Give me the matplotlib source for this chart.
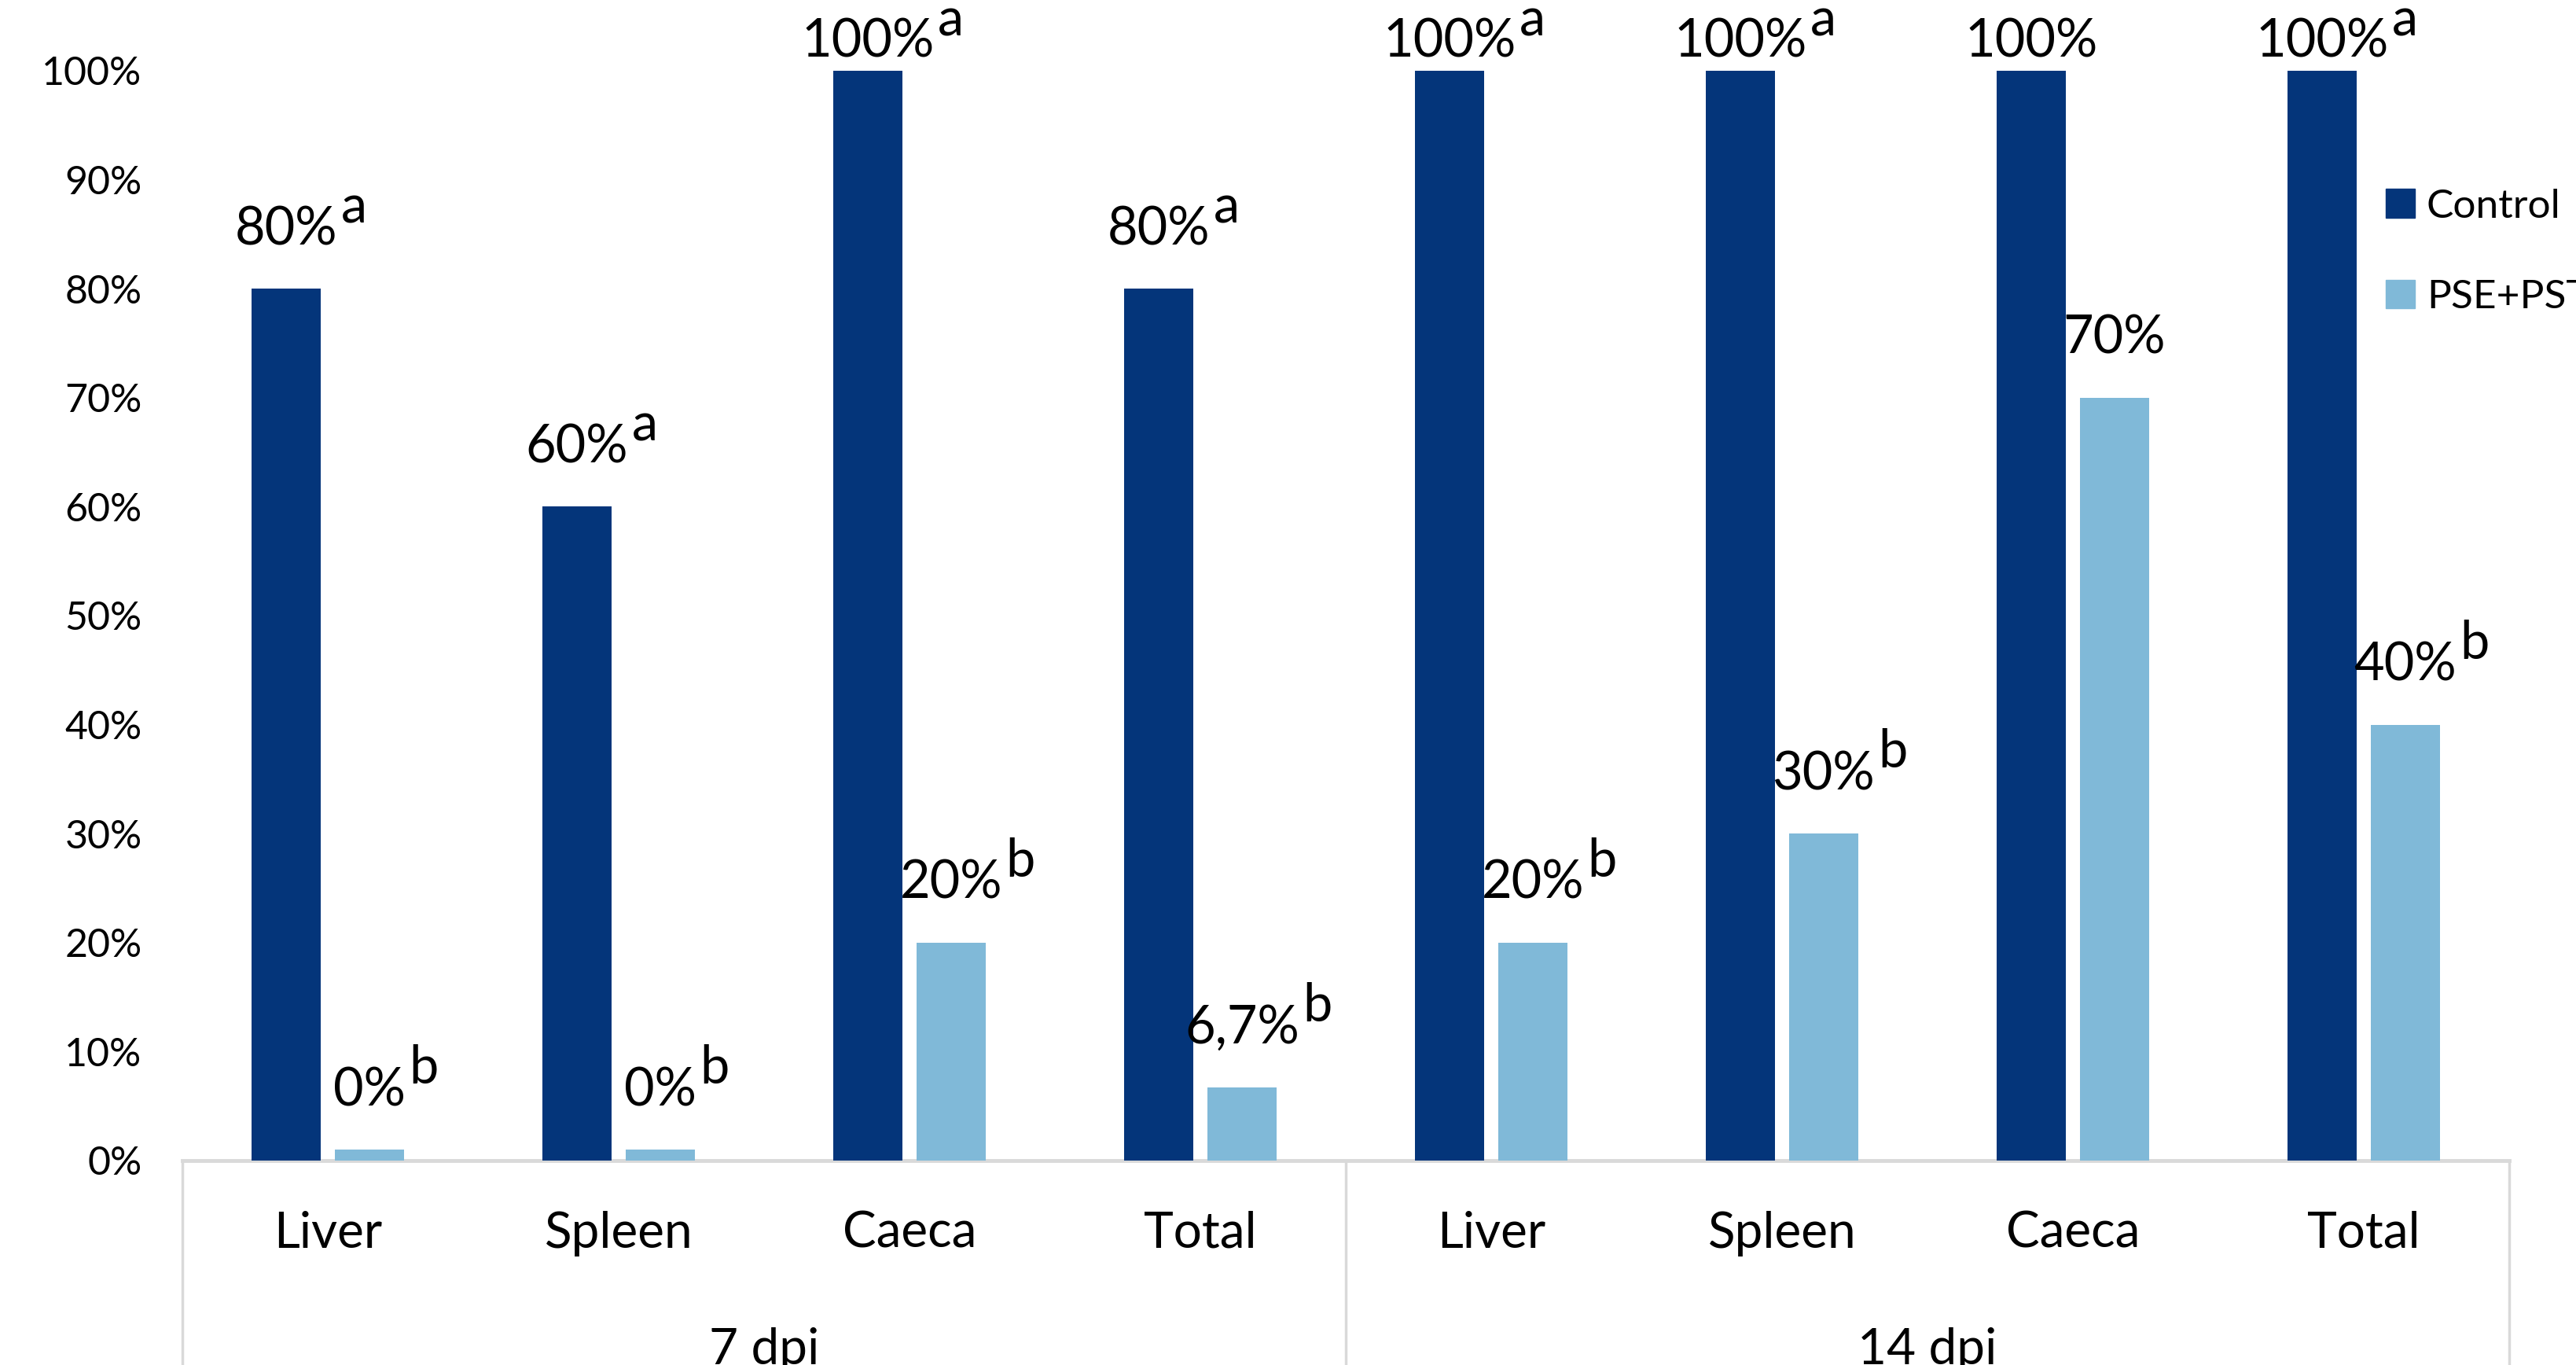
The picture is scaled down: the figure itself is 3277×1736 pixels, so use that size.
import matplotlib
matplotlib.use('Agg')
import matplotlib.pyplot as plt
from matplotlib.patches import Patch
import numpy as np

plt.rcParams['font.family'] = ['Lato', 'DejaVu Sans']

# data
organs = ['Liver', 'Spleen', 'Caeca', 'Total', 'Liver', 'Spleen', 'Caeca', 'Total']
groups = ['7 dpi', '14 dpi']
control = [80, 60, 100, 80, 100, 100, 100, 100]
pse = [1, 1, 20, 6.7, 20, 30, 70, 40]   # the 0% bars are drawn as a small stub
control_txt = ['80%', '60%', '100%', '80%', '100%', '100%', '100%', '100%']
control_sup = ['a', 'a', 'a', 'a', 'a', 'a', '', 'a']
pse_txt = ['0%', '0%', '20%', '6,7%', '20%', '30%', '70%', '40%']
pse_sup = ['b', 'b', 'b', 'b', 'b', 'b', '', 'b']
yticks = [0, 10, 20, 30, 40, 50, 60, 70, 80, 90, 100]

c_dark = '#04357a'
c_light = '#80b9d8'
c_line = '#d9d9d9'
lab_size = 48
tick_size = 36
cat_size = 46

fig = plt.figure(figsize=(32.77, 17.36), dpi=100)
ax = fig.add_axes([0.0708, 0.1498, 0.9032, 0.7984])

x = np.arange(len(organs))
w = 0.237
off = 0.143
ax.bar(x - off, control, w, color=c_dark, label='Control', zorder=3)
ax.bar(x + off, pse, w, color=c_light, label='PSE+PST', zorder=3)

ax.set_xlim(-0.5, 7.5)
ax.set_ylim(0, 100)
ax.set_yticks(yticks)
ax.set_yticklabels([f'{t}%' for t in yticks], fontsize=tick_size)
ax.tick_params(axis='y', length=0, pad=37)
ax.set_xticks([])
for s in ['top', 'right', 'left']:
    ax.spines[s].set_visible(False)
ax.spines['bottom'].set_color(c_line)
ax.spines['bottom'].set_linewidth(3.5)


def put_label(xc, val, txt, sup):
    dy = 26 if val >= 100 else 54
    t = ax.annotate(txt, xy=(xc, val), xytext=(0, dy), textcoords='offset points',
                    ha='center', va='center', fontsize=lab_size, annotation_clip=False)
    if sup:
        ax.annotate(sup, xy=(1, 0), xycoords=t, xytext=(3, 20), textcoords='offset points',
                    ha='left', va='bottom', fontsize=lab_size, annotation_clip=False)


for i in range(len(organs)):
    put_label(x[i] - off, control[i], control_txt[i], control_sup[i])
    put_label(x[i] + off, pse[i], pse_txt[i], pse_sup[i])

# category and group labels under the axis
tr = ax.get_xaxis_transform()
for i, name in enumerate(organs):
    ax.text(x[i], -0.067, name, transform=tr, ha='center', va='center', fontsize=cat_size)
for j, g in enumerate(groups):
    ax.text(1.5 + 4 * j, -0.174, g, transform=tr, ha='center', va='center', fontsize=cat_size,
            clip_on=False)
for xv in [-0.5, 3.5, 7.5]:
    ax.plot([xv, xv], [0, -0.25], transform=tr, color=c_line, lw=2.5, clip_on=False)

handles = [Patch(color=c_dark), Patch(color=c_light)]
fig.legend(handles, ['Control', 'PSE+PST'], loc='upper left', bbox_to_anchor=(0.926, 0.862),
           frameon=False, fontsize=37, handlelength=0.72, handleheight=0.72,
           handletextpad=0.3, labelspacing=1.35, borderpad=0, borderaxespad=0)

fig.savefig('out.png', dpi=100)
